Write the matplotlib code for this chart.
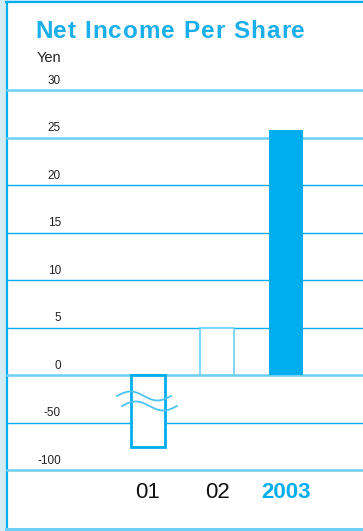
import matplotlib.pyplot as plt
import numpy as np
from matplotlib.patches import Rectangle

# data
years = ["01", "02", "2003"]
eps = [-76, 5.0, 25.8]
tick_values = [30, 25, 20, 15, 10, 5, 0, -50, -100]
tick_labels = ["30", "25", "20", "15", "10", "5", "0", "-50", "-100"]
light_lines = [30, 25, 0, -100]
title = "Net Income Per Share"

blue = "#00AEEF"
light = "#6DCFF5"
pale = "#D3EDF8"
W, H = 363, 531

plt.rcParams['font.family'] = ['Liberation Sans', 'DejaVu Sans']

fig = plt.figure(figsize=(W / 100, H / 100), dpi=100)
fig.patch.set_facecolor("white")

# panel with pale outer strip and border
bg = fig.add_axes([0, 0, 1, 1])
bg.set_xlim(0, W)
bg.set_ylim(H, 0)
bg.axis("off")
bg.add_patch(Rectangle((0, 0), 6, H, facecolor=pale, edgecolor="none"))
bg.add_patch(Rectangle((0, 0), W, 1.5, facecolor=pale, edgecolor="none"))
bg.add_patch(Rectangle((0, 529.5), W, 2, facecolor=pale, edgecolor="none"))
bg.plot([6.5, 6.5], [2, 529], color=blue, lw=1.6)
bg.plot([6, W], [2, 2], color=blue, lw=1.6)
bg.plot([6, W], [529, 529], color=light, lw=2.2)


# broken axis: 5 yen per step above zero, 50 yen per step below
def fwd(v):
    v = np.asarray(v, dtype=float)
    return np.where(v >= 0, v / 5.0, v / 50.0)


def inv(p):
    p = np.asarray(p, dtype=float)
    return np.where(p >= 0, p * 5.0, p * 50.0)


ax = fig.add_axes([7 / W, 61 / H, 356 / W, 380 / H])
ax.set_yscale("function", functions=(fwd, inv))
ax.set_ylim(-100, 30)
ax.set_xlim((7 - 148) / 69, (363 - 148) / 69)
ax.axis("off")

for v, lab in zip(tick_values, tick_labels):
    if v in light_lines:
        ax.axhline(v, color=light, lw=1.8, zorder=1, clip_on=False)
    else:
        ax.axhline(v, color=blue, lw=1.0, zorder=1, clip_on=False)
    ax.annotate(lab, xy=(54 / 356, v), xycoords=("axes fraction", "data"),
                xytext=(0, 2.5), textcoords="offset points",
                ha="right", va="bottom", fontsize=8.5, color="#222222")

x = np.arange(len(years))
ax.bar(x[0], eps[0], width=0.49, facecolor="white", edgecolor=blue, lw=2.0, zorder=3)
ax.bar(x[1], eps[1], width=0.49, facecolor="white", edgecolor=light, lw=1.2, zorder=3)
ax.bar(x[2], eps[2], width=0.49, facecolor=blue, edgecolor="none", zorder=3)

# break marks (drawn on top of the bar)
t = np.linspace(0, 1, 60)
ax.plot(117 + 54 * t, 396 - 4.5 * np.sin(2 * np.pi * t), color="#4FC3F0", lw=1.3,
        zorder=5, transform=bg.transData, clip_on=False)
ax.plot(122 + 55 * t, 406 - 4.5 * np.sin(2 * np.pi * t), color="#4FC3F0", lw=1.3,
        zorder=5, transform=bg.transData, clip_on=False)

for i, yr in enumerate(years):
    last = i == len(years) - 1
    ax.text(x[i], -22 / 380, yr, transform=ax.get_xaxis_transform(),
            ha="center", va="center", fontsize=16,
            family=['Liberation Sans Narrow', 'Liberation Sans'],
            fontweight="bold" if last else "normal",
            color=blue if last else "#111111")

# title with wide letter spacing
fs = 17.5
renderer = fig.canvas.get_renderer()
probe = fig.text(0, 0, title, fontsize=fs, fontweight="bold")
full_w = probe.get_window_extent(renderer).width
probe.remove()
track = (270 - full_w) / (len(title) - 1)
for i, ch in enumerate(title):
    if ch == " ":
        continue
    pre = 0.0
    if i > 0:
        p = fig.text(0, 0, title[:i], fontsize=fs, fontweight="bold")
        pre = p.get_window_extent(renderer).width
        p.remove()
    fig.text((35 + pre + i * track) / W, 1 - 32 / H, ch, ha="left", va="center",
             fontsize=fs, fontweight="bold", color="#1AAEEA")

fig.text(37 / W, 1 - 58 / H, "Yen", ha="left", va="center", fontsize=10.5, color="#222222")

fig.savefig("out.png", dpi=100, facecolor=fig.get_facecolor())
